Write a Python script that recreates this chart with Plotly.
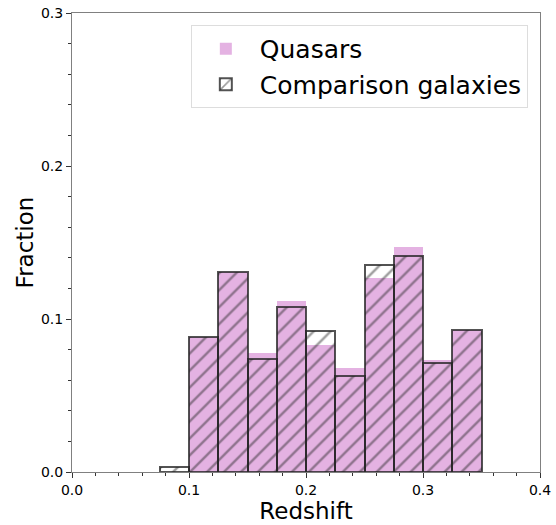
import plotly.graph_objects as go

bin_left = [0.075, 0.100, 0.125, 0.150, 0.175, 0.200, 0.225, 0.250, 0.275, 0.300, 0.325]
bin_width = 0.025
quasars = [0.0, 0.088, 0.131, 0.078, 0.112, 0.083, 0.068, 0.127, 0.147, 0.073, 0.093]
galaxies = [0.003, 0.088, 0.131, 0.074, 0.108, 0.092, 0.063, 0.135, 0.141, 0.071, 0.093]

centers = [b + bin_width / 2 for b in bin_left]

fig = go.Figure()
fig.add_trace(go.Bar(
    x=centers, y=quasars, width=bin_width, name="Quasars",
    marker=dict(color="#e4b2e2", line=dict(width=0)),
))
fig.add_trace(go.Bar(
    x=centers, y=galaxies, width=bin_width, name="Comparison galaxies",
    marker=dict(
        color="rgba(0,0,0,0)",
        line=dict(color="rgba(35,35,35,0.78)", width=2),
        pattern=dict(shape="/", size=12, solidity=0.2,
                     fgcolor="rgba(35,35,35,0.9)", bgcolor="rgba(0,0,0,0)"),
    ),
))

axis_common = dict(
    showgrid=False, zeroline=False, showline=True, linecolor="#808080", linewidth=1,
    mirror=True, ticks="outside", ticklen=5, tickcolor="#333", tickwidth=1,
    tickfont=dict(size=14, color="black"), automargin=False,
    ticklabeloverflow="allow",
)

fig.update_layout(
    width=556, height=525,
    margin=dict(l=72, r=16, t=13, b=53),
    plot_bgcolor="white", paper_bgcolor="white",
    font=dict(family="DejaVu Sans", color="black"),
    barmode="overlay", bargap=0,
    showlegend=True,
    legend=dict(x=0.974, y=0.974, xanchor="right", yanchor="top",
                bgcolor="white", bordercolor="#dddddd", borderwidth=1,
                font=dict(size=25), itemwidth=58, traceorder="normal"),
    xaxis=dict(range=[0, 0.4], tickvals=[0, 0.1, 0.2, 0.3, 0.4],
               ticktext=["0.0", "0.1", "0.2", "0.3", "0.4"],
               minor=dict(dtick=0.02, ticks="outside", ticklen=3, tickcolor="#333"),
               title=dict(text="Redshift", font=dict(size=23), standoff=0),
               **axis_common),
    yaxis=dict(range=[0, 0.3], tickvals=[0, 0.1, 0.2, 0.3],
               ticktext=["0.0", "0.1", "0.2", "0.3"],
               minor=dict(dtick=0.02, ticks="outside", ticklen=3, tickcolor="#333"),
               title=dict(text="Fraction", font=dict(size=23), standoff=0),
               **axis_common),
)

fig.write_html("out.html", config={"displayModeBar": False},
               post_script="document.body.style.margin='0';")
